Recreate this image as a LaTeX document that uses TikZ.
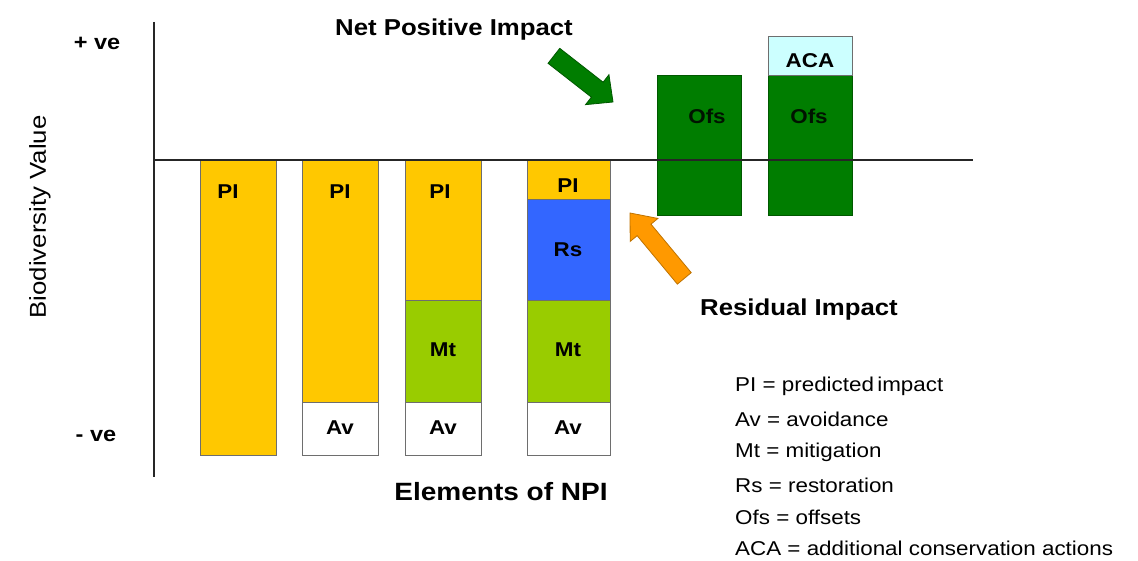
\documentclass[tikz,border=0pt]{standalone}
\usepackage{fontspec}
\setmainfont{Liberation Sans}[FakeStretch=1.12]
\usetikzlibrary{calc}

\definecolor{piyellow}{RGB}{255,200,0}
\definecolor{mtgreen}{RGB}{153,204,0}
\definecolor{rsblue}{RGB}{51,102,255}
\definecolor{ofsgreen}{RGB}{0,125,0}
\definecolor{acacyan}{RGB}{204,255,255}
\definecolor{arroworange}{RGB}{255,153,0}
\definecolor{edgegray}{RGB}{110,110,110}

\tikzset{
  seg/.style={draw=edgegray, line width=0.9pt},
  barlabel/.style={font=\bfseries\fontsize{20}{22}\selectfont, inner sep=0pt},
  bigbold/.style={font=\bfseries\fontsize{23}{26}\selectfont, inner sep=0pt},
  legend/.style={font=\fontsize{20}{22}\selectfont, anchor=west, inner sep=0pt},
  axis/.style={line width=2.6pt, black!85},
}

% block arrow with its tip at the origin, pointing along +x
\newcommand{\blockarrow}[6]{% fill, edge, length, shaft half-width, head half-width, head length
  \filldraw[fill=#1, draw=#2, line width=0.8pt]
    (-#3,-#4) -- (-#6,-#4) -- (-#6,-#5) -- (0,0) -- (-#6,#5) -- (-#6,#4) -- (-#3,#4) -- cycle;}

\begin{document}
\begin{tikzpicture}[x=1pt, y=-1pt]
\useasboundingbox[fill=white] (0,0) rectangle (1138,561);

% bar 1: predicted impact only
\draw[seg, fill=piyellow] (200,160) rectangle (276,455);
% bar 2: impact after avoidance
\draw[seg, fill=piyellow] (302,160) rectangle (378,402);
\draw[seg, fill=white]    (302,402) rectangle (378,455);
% bar 3: impact after avoidance and mitigation
\draw[seg, fill=piyellow] (405,160) rectangle (481,300);
\draw[seg, fill=mtgreen]  (405,300) rectangle (481,402);
\draw[seg, fill=white]    (405,402) rectangle (481,455);
% bar 4: impact after restoration
\draw[seg, fill=piyellow] (527,160) rectangle (610,199);
\draw[seg, fill=rsblue]   (527,199) rectangle (610,300);
\draw[seg, fill=mtgreen]  (527,300) rectangle (610,402);
\draw[seg, fill=white]    (527,402) rectangle (610,455);
% offsets
\draw[seg, draw=ofsgreen!70!black, fill=ofsgreen] (657,75) rectangle (741,215);
\draw[seg, draw=ofsgreen!70!black, fill=ofsgreen] (768,75) rectangle (852,215);
\draw[seg, fill=acacyan] (768,36) rectangle (852,75);

% axes
\draw[axis] (154,22) -- (154,477);
\draw[axis] (154,160) -- (973,160);

% bar labels
\node[barlabel] (pi1) at (228,192) {PI};
\node[barlabel] (pi2) at (340,192) {PI};
\node[barlabel] (pi3) at (440,192) {PI};
\node[barlabel] (pi4) at (568,186) {PI};
\node[barlabel] (rs4) at (568,250) {Rs};
\node[barlabel] (mt3) at (443,350) {Mt};
\node[barlabel] (mt4) at (568,350) {Mt};
\node[barlabel] (av2) at (340,428) {Av};
\node[barlabel] (av3) at (443,428) {Av};
\node[barlabel] (av4) at (568,428) {Av};
\node[barlabel, text=black!85!ofsgreen] (ofs1) at (707,116) {Ofs};
\node[barlabel, text=black!85!ofsgreen] (ofs2) at (809,116) {Ofs};
\node[barlabel] (aca) at (810,61) {ACA};

% axis texts
\node[bigbold, font=\bfseries\fontsize{21}{24}\selectfont] (pve) at (97,43) {+ ve};
\node[bigbold, font=\bfseries\fontsize{21}{24}\selectfont] (nve) at (96,436) {- ve};
\node[font=\fontsize{23}{26}\selectfont, rotate=90, inner sep=0pt] (ylab) at (40,217) {Biodiversity Value};
\node[bigbold, font=\bfseries\fontsize{25}{28}\selectfont] (xlab) at (501,492) {Elements of NPI};

% callouts
\node[bigbold] (npi) at (454,30) {Net Positive Impact};
\node[bigbold] (res) at (799,310) {Residual Impact};
\begin{scope}[shift={(613,102)}, rotate=-38]
  \blockarrow{ofsgreen}{ofsgreen!70!black}{75}{9.5}{19}{20}
\end{scope}
\begin{scope}[shift={(630,213)}, rotate=129.7]
  \blockarrow{arroworange}{arroworange!75!black}{85}{9}{18}{22}
\end{scope}

% legend
\node[legend] (l1) at (735,386) {PI = predicted\,impact};
\node[legend] (l2) at (735,419) {Av = avoidance};
\node[legend] (l3) at (735,452) {Mt = mitigation};
\node[legend] (l4) at (735,485) {Rs = restoration};
\node[legend] (l5) at (735,517) {Ofs = offsets};
\node[legend] (l6) at (735,548) {ACA = additional conservation actions};
\end{tikzpicture}
\end{document}
